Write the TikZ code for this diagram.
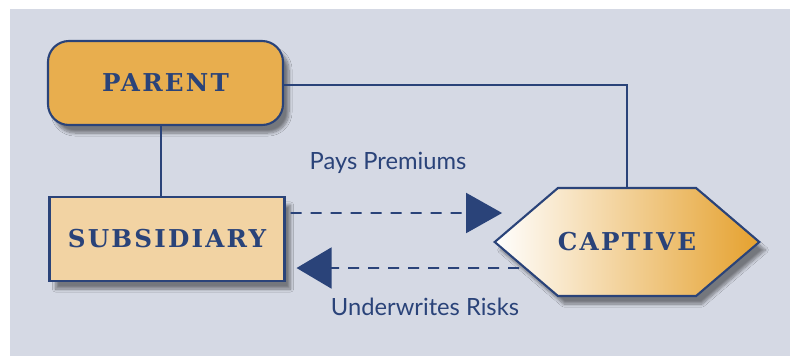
\documentclass[tikz,border=0pt]{standalone}
\usepackage{fontspec}
\usepackage{tikz}
\usetikzlibrary{arrows.meta,shapes.symbols,shadows.blur}
\newfontfamily\boxfont[LetterSpace=9]{DejaVu Serif}
\newfontfamily\labelfont{Lato}
\definecolor{panelgray}{HTML}{D5D9E4}
\definecolor{navy}{HTML}{2A4379}
\definecolor{parentorange}{HTML}{E8AE4E}
\definecolor{subsorange}{HTML}{F2D3A3}
\definecolor{captiveorange}{HTML}{E5A12E}
\def\boxtext#1{{\boxfont\bfseries #1}}

\begin{document}
\begin{tikzpicture}[
        entity/.style={draw=navy, line width=1.2pt, text=navy, font=\fontsize{14}{16}\selectfont,
            minimum width=4.7cm, minimum height=1.68cm,
            blur shadow={shadow xshift=0.12cm, shadow yshift=-0.16cm, shadow blur steps=8, shadow opacity=45}},
        link/.style={draw=navy, line width=1.1pt},
        flow/.style={draw=navy, line width=1.1pt, dash pattern=on 0.22cm off 0.18cm},
        tag/.style={text=navy, font=\labelfont\fontsize{13.5}{15}\selectfont}
    ]
    \useasboundingbox (0,0) rectangle (15.86,7.12);
    \fill[panelgray] (0.2,0) rectangle (15.8,6.94);

    % the three companies
    \node[entity, rounded corners=0.42cm, fill=parentorange] (parent) at (3.31,5.46) {\boxtext{PARENT}};
    \node[entity, fill=subsorange] (subsidiary) at (3.34,2.34) {\boxtext{SUBSIDIARY}};
    \node[entity, signal, signal to=east and west, signal pointer angle=81,
        minimum width=5.12cm, minimum height=2.16cm, inner xsep=0pt,
        left color=white, right color=captiveorange] (captive) at (12.54,2.28) {\boxtext{CAPTIVE}};

    % ownership lines
    \draw[link] ([xshift=-0.09cm]parent.south) -- ([xshift=-0.09cm]parent.south |- subsidiary.north);
    \draw[link] ([yshift=-0.04cm]parent.east) -| (captive.north);

    % premiums and risks
    \draw[flow, -{Triangle[length=0.72cm, width=0.8cm]}] ([shift={(0.1,0.52)}]subsidiary.east) -- ([shift={(0.18,0.58)}]captive.west);
    \draw[flow, -{Triangle[length=0.7cm, width=0.82cm]}] ([shift={(0.52,-0.52)}]captive.west) -- ([shift={(0.22,-0.58)}]subsidiary.east);
    \node[tag] (pays) at (7.76,3.86) {Pays Premiums};
    \node[tag] (underwrites) at (8.5,0.98) {Underwrites Risks};
\end{tikzpicture}
\end{document}
